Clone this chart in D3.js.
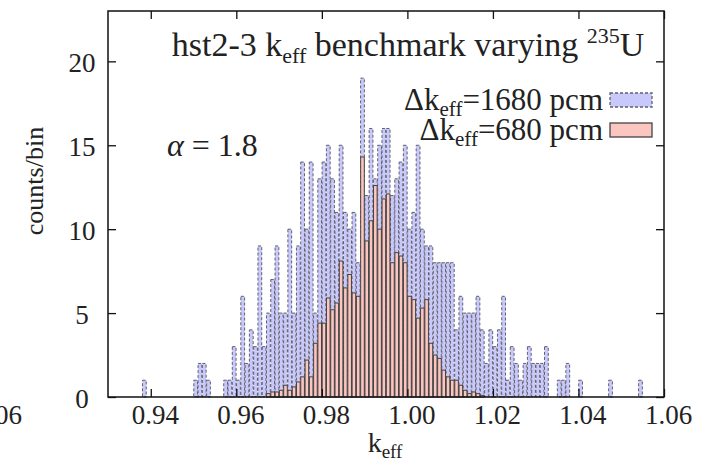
<!DOCTYPE html>
<html>
<head>
<meta charset="utf-8">
<script src="https://cdn.jsdelivr.net/npm/d3@7"></script>
<style>
body { margin: 0; background: #fff; }
svg text { fill: #222; font-family: "Liberation Serif", "DejaVu Serif", serif; }
</style>
</head>
<body>
<svg id="chart" width="713" height="463"></svg>
<script>
// left edge of each bin (keff) and counts per bin, bin width 0.001
const keff1680 = [0.938,
    0.950, 0.951, 0.952, 0.953,
    0.957, 0.958, 0.959, 0.960, 0.961, 0.962, 0.963, 0.964, 0.965, 0.966,
    0.967, 0.968, 0.969, 0.970, 0.971, 0.972, 0.973, 0.974, 0.975, 0.976,
    0.977, 0.978, 0.979, 0.980, 0.981, 0.982, 0.983, 0.984, 0.985, 0.986,
    0.987, 0.988, 0.989, 0.990, 0.991, 0.992, 0.993, 0.994, 0.995, 0.996,
    0.997, 0.998, 0.999, 1.000, 1.001, 1.002, 1.003, 1.004, 1.005, 1.006,
    1.007, 1.008, 1.009, 1.010, 1.011, 1.012, 1.013, 1.014, 1.015, 1.016,
    1.017, 1.018, 1.019, 1.020, 1.021, 1.022, 1.023, 1.024, 1.025, 1.026,
    1.027, 1.028, 1.029, 1.030, 1.031, 1.032,
    1.035, 1.036, 1.037, 1.040, 1.047, 1.054];
const counts1680 = [1,
    1, 2, 2, 1,
    1, 1, 3, 1, 6, 2, 4, 3, 9, 3,
    5, 7, 9, 5, 5, 10, 5, 9, 14, 10,
    14, 5, 13, 14, 15, 13, 11, 15, 11, 10,
    11, 8, 19, 12, 16, 13, 15, 16, 16, 12,
    13, 14, 15, 10, 11, 15, 10, 9, 9, 8,
    8, 8, 8, 8, 4, 6, 5, 5, 5, 6,
    4, 2, 4, 3, 4, 6, 1, 3, 2, 1,
    2, 3, 2, 2, 2, 3,
    1, 1, 2, 1, 1, 1];

const keff680 = [0.967, 0.968, 0.969, 0.970, 0.971, 0.972, 0.973, 0.974, 0.975, 0.976,
    0.977, 0.978, 0.979, 0.980, 0.981, 0.982, 0.983, 0.984, 0.985, 0.986,
    0.987, 0.988, 0.989, 0.990, 0.991, 0.992, 0.993, 0.994, 0.995, 0.996,
    0.997, 0.998, 0.999, 1.000, 1.001, 1.002, 1.003, 1.004, 1.005, 1.006,
    1.007, 1.008, 1.009, 1.010, 1.011, 1.012, 1.013, 1.014, 1.015, 1.016,
    1.017];
const counts680 = [0.2, 0.3, 0.3, 0.4, 0.7, 0.4, 0.6, 0.9, 1.2, 2.2,
    1.2, 3.2, 4.4, 4.4, 5.9, 5.2, 5.6, 8.1, 6.5, 7.3,
    6.2, 6.0, 14.3, 9.3, 10.5, 12.6, 10.0, 11.8, 12.1, 8.0,
    8.6, 8.4, 8.0, 6.0, 5.8, 4.7, 5.3, 5.8, 3.2, 2.5,
    2.3, 1.6, 1.2, 1.0, 1.0, 0.7, 0.4, 0.2, 0.3, 0.2,
    0.1];

const xTicks = [0.94, 0.96, 0.98, 1.00, 1.02, 1.04, 1.06];
const yTicks = [0, 5, 10, 15, 20];
const binWidth = 0.001;

const margin = { l: 108, t: 11, r: 49, b: 66 };
const width = 713, height = 463;

const svg = d3.select('#chart');

const x = d3.scaleLinear().domain([0.93, 1.06]).range([margin.l, width - margin.r]);
const y = d3.scaleLinear().domain([0, 23]).range([height - margin.b, margin.t]);

// gap is the share of a bin left blank on each side
function bars(keys, vals, cls, gap) {
    return svg.append('g').attr('class', cls)
        .selectAll('rect')
        .data(keys.map((k, i) => [k, vals[i]]))
        .join('rect')
        .attr('x', d => x(d[0] + gap * binWidth))
        .attr('width', d => x(d[0] + (1 - gap) * binWidth) - x(d[0] + gap * binWidth))
        .attr('y', d => y(d[1]))
        .attr('height', d => y(0) - y(d[1]));
}

bars(keff1680, counts1680, 'b1680', 0.06)
    .attr('fill', '#c8c8fa')
    .attr('stroke', '#60606e')
    .attr('stroke-width', 1)
    .attr('stroke-dasharray', '3,2');

bars(keff680, counts680, 'b680', 0.08)
    .attr('fill', '#fcc6c0')
    .attr('stroke', '#444')
    .attr('stroke-width', 1);

const tick = 8;
const fs = 27;

const xAxis = svg.append('g')
    .attr('transform', `translate(0,${y(0)})`)
    .call(d3.axisBottom(x).tickValues(xTicks).tickSize(-tick).tickFormat(d3.format('.2f')));
xAxis.selectAll('text').attr('font-size', fs).attr('y', 27).attr('dx', 4).attr('dy', 0);

svg.append('g')
    .attr('transform', `translate(0,${y(23)})`)
    .call(d3.axisTop(x).tickValues(xTicks).tickSize(-tick).tickFormat(''));

const yAxis = svg.append('g')
    .attr('transform', `translate(${x(0.93)},0)`)
    .call(d3.axisLeft(y).tickValues(yTicks).tickSize(-tick));
yAxis.selectAll('text').attr('font-size', fs).attr('text-anchor', 'middle')
    .attr('x', -26).attr('dy', 10);

svg.append('g')
    .attr('transform', `translate(${x(1.06)},0)`)
    .call(d3.axisRight(y).tickValues(yTicks).tickSize(-tick).tickFormat(''));

svg.selectAll('.domain').remove();
svg.selectAll('.tick line').attr('stroke', '#111').attr('stroke-width', 1.3);
svg.selectAll('.tick text').attr('fill', '#222').attr('font-family', null);

svg.append('rect')
    .attr('x', x(0.93)).attr('y', y(23))
    .attr('width', x(1.06) - x(0.93)).attr('height', y(0) - y(23))
    .attr('fill', 'none').attr('stroke', '#111').attr('stroke-width', 1.5);

// stray clipped label at the far left
svg.append('text').attr('x', 22).attr('y', y(0) + 27)
    .attr('text-anchor', 'end').attr('font-size', fs).text('1.06');

const xl = svg.append('text').attr('x', 385).attr('y', 452)
    .attr('text-anchor', 'middle').attr('font-size', 28);
xl.append('tspan').text('k');
xl.append('tspan').attr('font-size', 19).attr('dy', 6).text('eff');

svg.append('text')
    .attr('transform', 'translate(43,181) rotate(-90)')
    .attr('text-anchor', 'middle').attr('font-size', 26)
    .text('counts/bin');

const title = svg.append('text').attr('x', 408).attr('y', 56)
    .attr('text-anchor', 'middle').attr('font-size', 34);
title.append('tspan').text('hst2-3 k');
title.append('tspan').attr('font-size', 22).attr('dy', 7).text('eff');
title.append('tspan').attr('dy', -7).text(' benchmark varying ');
title.append('tspan').attr('font-size', 22).attr('dy', -13).text('235');
title.append('tspan').attr('dy', 13).text('U');

svg.append('text').attr('x', 167).attr('y', 156).attr('font-size', 32)
    .html('<tspan font-style="italic">α</tspan> = 1.8');

const legend = [
    { label: '1680 pcm', fill: '#c8c8fa', stroke: '#60606e', dash: '3,2', cy: 100 },
    { label: '680 pcm', fill: '#fcc6c0', stroke: '#444', dash: null, cy: 130 }
];
legend.forEach(d => {
    const t = svg.append('text').attr('x', 603).attr('y', d.cy + 10)
        .attr('text-anchor', 'end').attr('font-size', 31);
    t.append('tspan').text('Δk');
    t.append('tspan').attr('font-size', 21).attr('dy', 6).text('eff');
    t.append('tspan').attr('dy', -6).text('=' + d.label);
    svg.append('rect').attr('x', 610).attr('y', d.cy - 7)
        .attr('width', 42).attr('height', 14)
        .attr('fill', d.fill).attr('stroke', d.stroke).attr('stroke-width', 1.3)
        .attr('stroke-dasharray', d.dash);
});
</script>
</body>
</html>
